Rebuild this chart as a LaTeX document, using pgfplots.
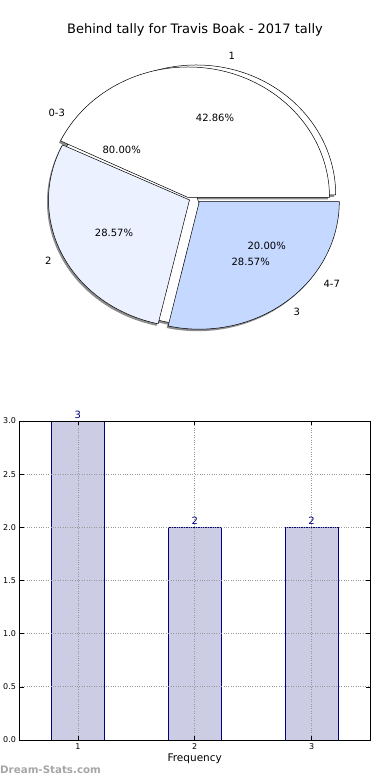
\documentclass[border=0pt]{standalone}
\usepackage{pgfplots}
\pgfplotsset{compat=1.18}
\usepackage{pgfplotstable}
\usepackage{fontspec}
\setmainfont{DejaVu Sans}
\definecolor{wedgeB}{RGB}{235,241,255}
\definecolor{wedgeC}{RGB}{197,216,255}
\definecolor{barfill}{RGB}{204,204,229}
\definecolor{navyc}{RGB}{0,0,128}
\definecolor{shadowc}{RGB}{140,140,140}
\pgfplotstableread{
x y
1 3
2 2
3 2
}\freqtable
% pie of frequencies 3,2,2 (total 7); second pie 0-3: 80%, 4-7: 20%
\pgfmathsetmacro{\aOne}{360*3/7}
\pgfmathsetmacro{\aTwo}{360*5/7}
\pgfmathsetmacro{\bOne}{360*0.8}
\begin{document}
\begin{tikzpicture}
\useasboundingbox (0,0) rectangle (390pt,780pt);
\begin{axis}[at={(0,0)},anchor=south west,width=390pt,height=780pt,scale only axis,
  xmin=0,xmax=390,ymin=0,ymax=780,hide axis,clip=false]
% shadows
\fill[shadowc] (axis cs:194.7,583) -- ++(0:139.5pt and 130pt) arc[start angle=0,end angle=\bOne,x radius=139.5pt,y radius=130pt] -- cycle;
\fill[shadowc] (axis cs:186.5,580.5) -- ++(0:141.5pt and 130.5pt) arc[start angle=0,end angle=\aOne,x radius=141.5pt,y radius=130.5pt] -- cycle;
\fill[shadowc] (axis cs:188,578) -- ++(\aOne:141pt and 127pt) arc[start angle=\aOne,end angle=\aTwo,x radius=141pt,y radius=127pt] -- cycle;
\fill[shadowc] (axis cs:197.8,576.3) -- ++(\aTwo:140pt and 127.5pt) arc[start angle=\aTwo,end angle=360,x radius=140pt,y radius=127.5pt] -- cycle;
% ghost wedge (second pie, 0-3)
\filldraw[fill=white,draw=black,line width=0.5pt] (axis cs:196.2,585) -- ++(0:139.5pt and 130pt) arc[start angle=0,end angle=\bOne,x radius=139.5pt,y radius=130pt] -- cycle;
% wedges
\filldraw[fill=white,draw=black,line width=0.5pt] (axis cs:188,582.5) -- ++(0:141.5pt and 130.5pt) arc[start angle=0,end angle=\aOne,x radius=141.5pt,y radius=130.5pt] -- cycle;
\filldraw[fill=wedgeB,draw=black,line width=0.5pt] (axis cs:189.5,580) -- ++(\aOne:141pt and 127pt) arc[start angle=\aOne,end angle=\aTwo,x radius=141pt,y radius=127pt] -- cycle;
\filldraw[fill=wedgeC,draw=black,line width=0.5pt] (axis cs:199.3,578.3) -- ++(\aTwo:140pt and 127.5pt) arc[start angle=\aTwo,end angle=360,x radius=140pt,y radius=127.5pt] -- cycle;
\end{axis}
% titles and pie labels
\begin{scope}[every node/.style={font=\fontsize{10}{12}\selectfont,inner sep=0pt}]
\node at (195pt,750pt) {\fontsize{13}{15}\selectfont Behind tally for Travis Boak - 2017 tally};
\node at (231.7pt,724pt) {1};
\node at (215pt,661.7pt) {42.86\%};
\node at (56.7pt,666.7pt) {0-3};
\node at (121.7pt,630pt) {80.00\%};
\node at (48.3pt,519.3pt) {2};
\node at (114pt,546.7pt) {28.57\%};
\node at (266.7pt,534pt) {20.00\%};
\node at (250.7pt,518pt) {28.57\%};
\node at (331.7pt,495.7pt) {4-7};
\node at (296.7pt,467.7pt) {3};
\node[anchor=west,text=gray!70] at (0pt,10pt) {\fontsize{10.3}{12}\selectfont\bfseries Dream-Stats.com};
\end{scope}
\begin{axis}[at={(19.5pt,40pt)},anchor=south west,width=350.5pt,height=319pt,scale only axis,
  xmin=0.5,xmax=3.5,ymin=0,ymax=3,
  xtick={1,2,3},ytick={0,0.5,1,1.5,2,2.5,3},
  yticklabel style={/pgf/number format/.cd,fixed,fixed zerofill,precision=1},
  /pgf/number format/assume math mode=true,
  tick align=inside,major tick length=4pt,tick style={black,line width=0.5pt},
  grid=major,grid style={dotted,gray!80,line width=0.8pt},
  axis on top,
  ticklabel style={font=\fontsize{8}{9}\selectfont},
  xlabel={Frequency},xlabel style={font=\fontsize{10.5}{12}\selectfont,yshift=3pt},
  axis line style={line width=0.8pt}]
\addplot[ybar,bar width=0.45,bar shift=0pt,fill=barfill,draw=navyc,line width=0.7pt,
  nodes near coords,nodes near coords style={text=navyc,font=\fontsize{10}{12}\selectfont,inner sep=2pt}]
  table[x=x,y=y] {\freqtable};
\end{axis}
\end{tikzpicture}
\end{document}
